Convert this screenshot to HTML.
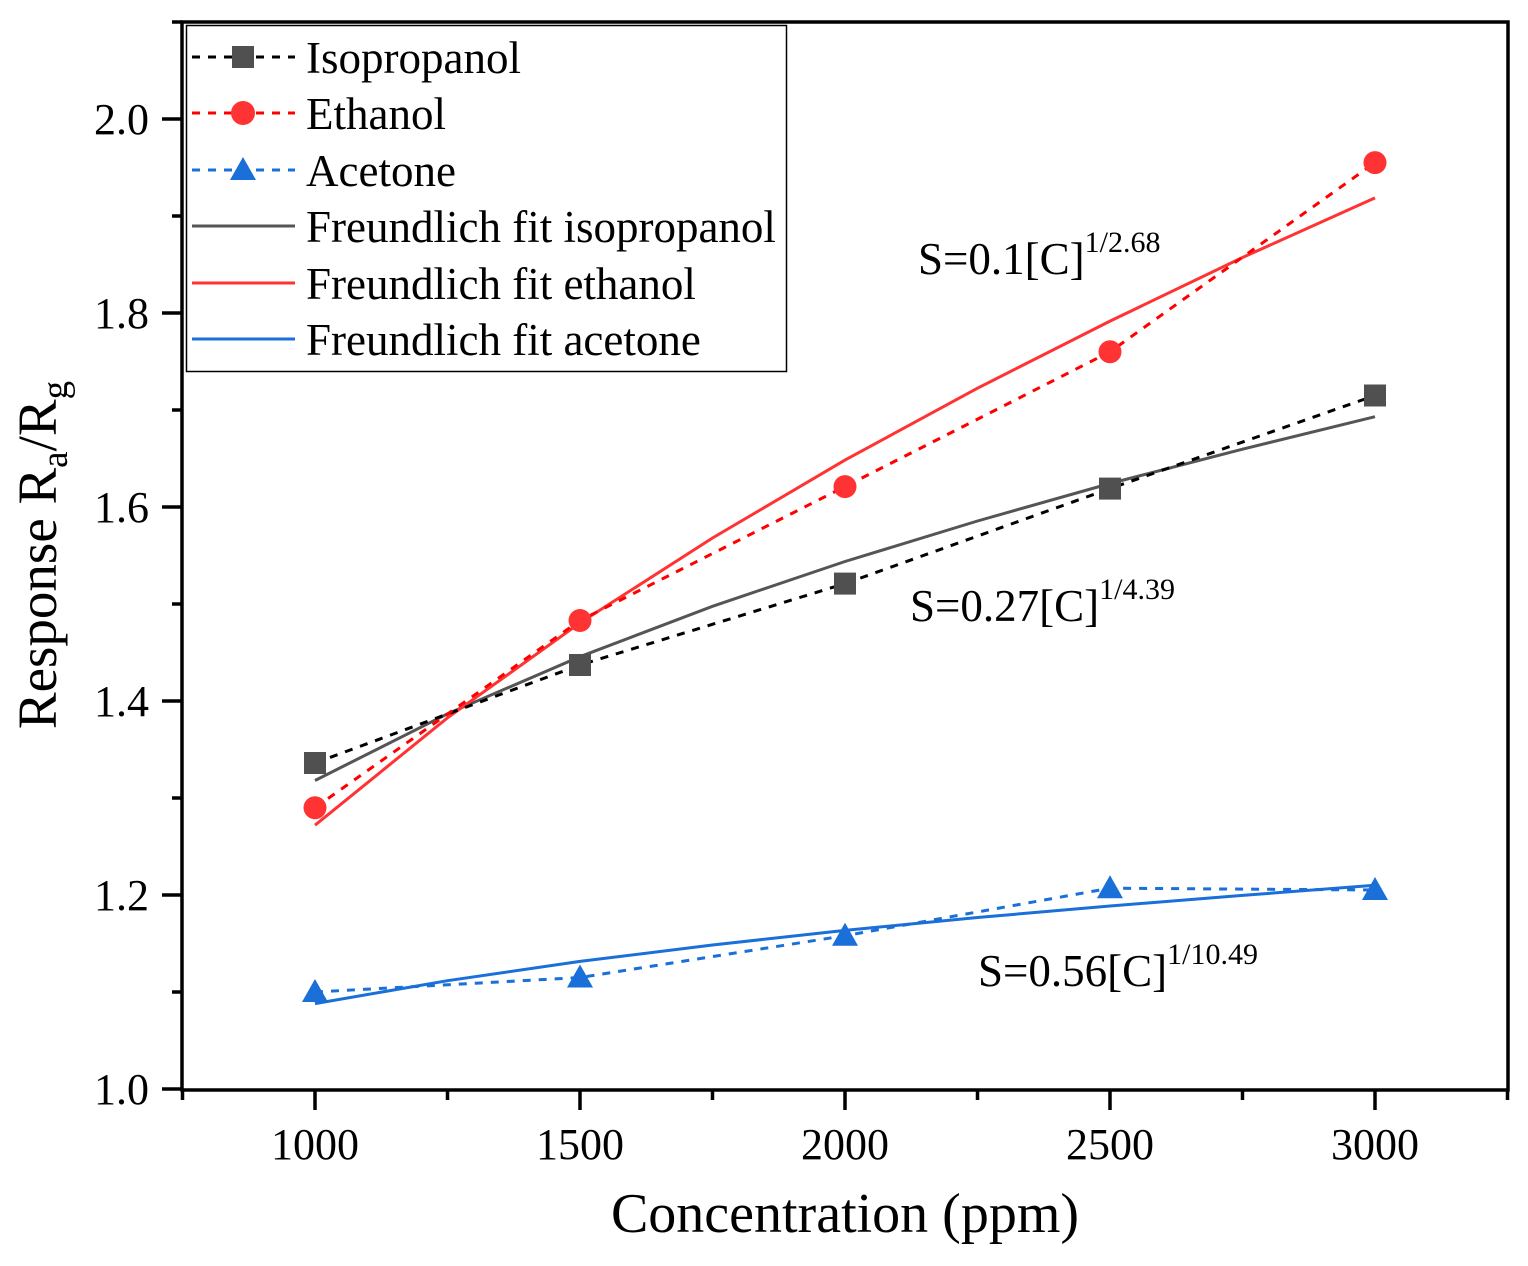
<!DOCTYPE html>
<html><head><meta charset="utf-8"><style>body{margin:0;background:#fff}svg{display:block}</style></head><body>
<svg width="1528" height="1266" xmlns="http://www.w3.org/2000/svg" font-family="Liberation Serif, serif">
<rect width="1528" height="1266" fill="#fff"/>
<polyline fill="none" stroke="#555" stroke-width="3" points="315,780.5 447.5,713.8 580,656.7 712.5,606.3 845,561.5 977.5,521 1110,483.5 1242.5,449.2 1375,416.7"/>
<polyline fill="none" stroke="#f33" stroke-width="3" points="315,825.2 447.5,717.8 580,622.9 712.5,538 845,460.1 977.5,388.2 1110,321.1 1242.5,257.5 1375,197.9"/>
<polyline fill="none" stroke="#1a6fd8" stroke-width="3" points="315,1003.6 447.5,980.7 580,961.4 712.5,945 845,930.4 977.5,917.5 1110,906 1242.5,895.4 1375,885.2"/>
<polyline fill="none" stroke="#000" stroke-width="3" stroke-dasharray="8,8" points="315,763 580,665 845,583.6 1110,488.6 1375,395.5"/>
<polyline fill="none" stroke="#f00" stroke-width="3" stroke-dasharray="8,8" points="315,807.7 580,620.5 845,486.6 1110,351.8 1375,162.6"/>
<polyline fill="none" stroke="#1a6fd8" stroke-width="3" stroke-dasharray="8,8" points="315,992 580,977.5 845,935.7 1110,888.2 1375,890"/>
<g fill="#505050">
<rect x="304" y="752" width="22" height="22"/><rect x="569" y="654" width="22" height="22"/><rect x="834" y="572.6" width="22" height="22"/><rect x="1099" y="477.6" width="22" height="22"/><rect x="1364" y="384.5" width="22" height="22"/>
</g>
<g fill="#f33">
<circle cx="315" cy="807.7" r="11.5"/><circle cx="580" cy="620.5" r="11.5"/><circle cx="845" cy="486.6" r="11.5"/><circle cx="1110" cy="351.8" r="11.5"/><circle cx="1375" cy="162.6" r="11.5"/>
</g>
<g fill="#1a6fd8">
<polygon points="315,979 302,1002 328,1002"/><polygon points="580,964.5 567,987.5 593,987.5"/><polygon points="845,922.7 832,945.7 858,945.7"/><polygon points="1110,875.2 1097,898.2 1123,898.2"/><polygon points="1375,877 1362,900 1388,900"/>
</g>
<rect x="182" y="22" width="1326" height="1068" fill="none" stroke="#000" stroke-width="3.5"/>
<g stroke="#000" stroke-width="3.5">
<line x1="162" y1="1089" x2="182" y2="1089"/><line x1="162" y1="895" x2="182" y2="895"/><line x1="162" y1="701" x2="182" y2="701"/><line x1="162" y1="507" x2="182" y2="507"/><line x1="162" y1="313" x2="182" y2="313"/><line x1="162" y1="119" x2="182" y2="119"/>
<line x1="172" y1="992" x2="182" y2="992"/><line x1="172" y1="798" x2="182" y2="798"/><line x1="172" y1="604" x2="182" y2="604"/><line x1="172" y1="410" x2="182" y2="410"/><line x1="172" y1="216" x2="182" y2="216"/><line x1="172" y1="22" x2="182" y2="22"/>
<line x1="315" y1="1090" x2="315" y2="1110"/><line x1="580" y1="1090" x2="580" y2="1110"/><line x1="845" y1="1090" x2="845" y2="1110"/><line x1="1110" y1="1090" x2="1110" y2="1110"/><line x1="1375" y1="1090" x2="1375" y2="1110"/>
<line x1="182.5" y1="1090" x2="182.5" y2="1100"/><line x1="447.5" y1="1090" x2="447.5" y2="1100"/><line x1="712.5" y1="1090" x2="712.5" y2="1100"/><line x1="977.5" y1="1090" x2="977.5" y2="1100"/><line x1="1242.5" y1="1090" x2="1242.5" y2="1100"/><line x1="1507.5" y1="1090" x2="1507.5" y2="1100"/>
</g>
<g font-size="44" text-anchor="end">
<text x="149" y="1104">1.0</text><text x="149" y="910">1.2</text><text x="149" y="716">1.4</text><text x="149" y="522">1.6</text><text x="149" y="328">1.8</text><text x="149" y="134">2.0</text>
</g>
<g font-size="44" text-anchor="middle">
<text x="315" y="1159">1000</text><text x="580" y="1159">1500</text><text x="845" y="1159">2000</text><text x="1110" y="1159">2500</text><text x="1375" y="1159">3000</text>
</g>
<text x="845" y="1232" font-size="56" text-anchor="middle">Concentration (ppm)</text>
<text transform="translate(56,555) rotate(-90)" font-size="55" text-anchor="middle">Response R<tspan font-size="37" dy="11">a</tspan><tspan dy="-11">/R</tspan><tspan font-size="37" dy="11">g</tspan></text>
<text x="918" y="274" font-size="45">S=0.1[C]<tspan font-size="30" dy="-22">1/2.68</tspan></text>
<text x="910" y="621" font-size="45">S=0.27[C]<tspan font-size="30" dy="-22">1/4.39</tspan></text>
<text x="978" y="986" font-size="45">S=0.56[C]<tspan font-size="30" dy="-22">1/10.49</tspan></text>
<rect x="186.5" y="25.5" width="600" height="346" fill="#fff" stroke="#000" stroke-width="1.5"/>
<g stroke-width="3" stroke-dasharray="8,8">
<line x1="192" y1="57" x2="295" y2="57" stroke="#000"/>
<line x1="192" y1="113" x2="295" y2="113" stroke="#f00"/>
<line x1="192" y1="170" x2="295" y2="170" stroke="#1a6fd8"/>
</g>
<rect x="232" y="46" width="22" height="22" fill="#505050"/>
<circle cx="243" cy="113" r="12" fill="#f33"/>
<polygon points="243,157 230,180 256,180" fill="#1a6fd8"/>
<g stroke-width="3">
<line x1="192" y1="226" x2="295" y2="226" stroke="#555"/>
<line x1="192" y1="283" x2="295" y2="283" stroke="#f33"/>
<line x1="192" y1="339" x2="295" y2="339" stroke="#1a6fd8"/>
</g>
<g font-size="45">
<text x="306" y="73">Isopropanol</text><text x="306" y="129">Ethanol</text><text x="306" y="186">Acetone</text>
<text x="306" y="242">Freundlich fit isopropanol</text><text x="306" y="299">Freundlich fit ethanol</text><text x="306" y="355">Freundlich fit acetone</text>
</g>
</svg>
</body></html>
